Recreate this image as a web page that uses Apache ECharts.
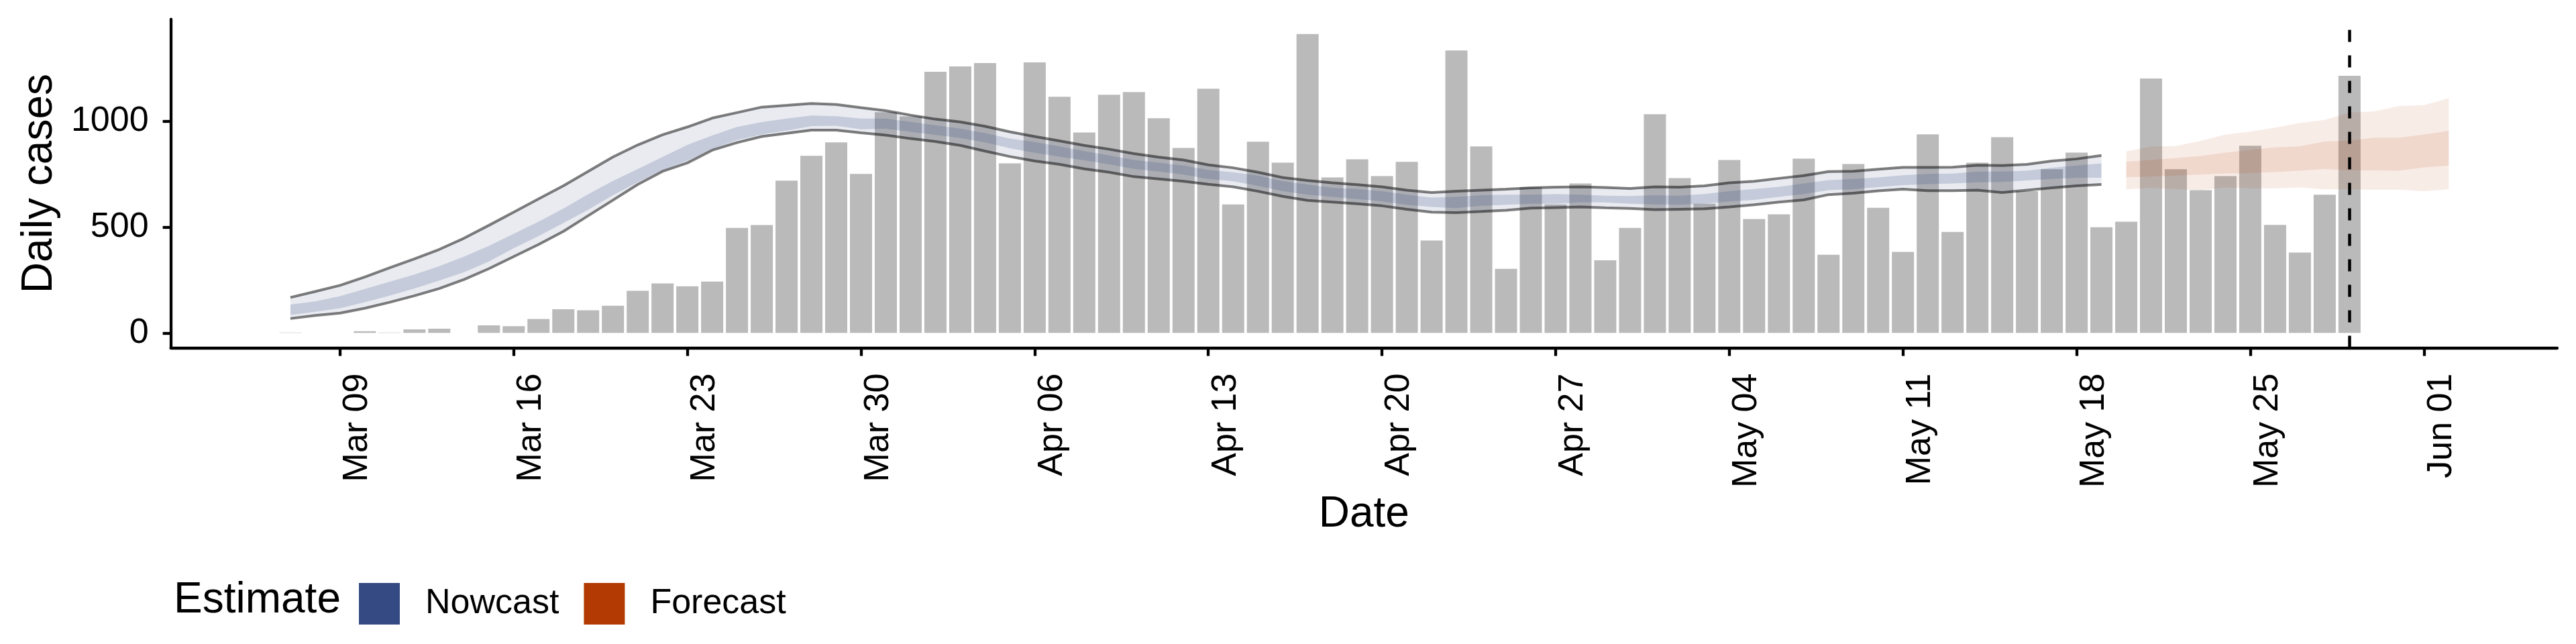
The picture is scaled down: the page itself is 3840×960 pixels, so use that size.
<!DOCTYPE html>
<html>
<head>
<meta charset="utf-8">
<script src="https://cdn.jsdelivr.net/npm/echarts@6/dist/echarts.min.js"></script>
<style>
  html, body { margin: 0; padding: 0; background: #fff; }
  #chart { width: 3840px; height: 960px; }
</style>
</head>
<body>
<div id="chart"></div>
<script>
const FONT = 'Liberation Sans';

// reported daily cases, one per day from caseStart
const caseStart = '2020-03-07';
const cases = [
  2, 0, 0, 8, 2, 17, 20, 0, 36, 32, 66, 112, 107, 129, 199, 234, 221, 243, 497, 510, 720, 838, 901, 752,
  1044, 1024, 1235, 1260, 1276, 802, 1279, 1117, 948, 1126, 1139, 1015, 875, 1155,
  608, 904, 805, 1413, 735, 821, 742, 809, 437, 1336, 882, 303, 689,
  608, 707, 344, 497, 1034, 732, 611, 818, 539, 561, 824, 370, 799, 592,
  383, 939, 478, 805, 926, 670, 774, 853, 500, 526, 1203, 774, 675, 742, 885, 511, 380, 654, 1216
];

// nowcast credible intervals, one per day from nowcastStart
const nowcastStart = '2020-03-07';
const nowUpper90 = [
  168, 196, 225, 265, 308, 350, 395, 448, 509, 571, 634, 696, 764, 832, 889, 937, 974, 1016, 1042, 1068, 1076, 1085, 1080, 1065,
  1051, 1030, 1011, 998, 977, 951, 929, 908, 887, 869, 848, 831, 818, 795,
  781, 760, 735, 721, 710, 701, 691, 675, 664, 670, 675, 680, 686,
  689, 691, 688, 683, 691, 689, 696, 710, 717, 731, 744, 763, 765, 774,
  783, 783, 784, 793, 792, 797, 813, 823, 839
];
const nowLower90 = [
  68, 83, 94, 117, 145, 176, 210, 253, 304, 361, 418, 480, 554, 628, 702, 764, 804, 864, 900, 929, 944, 959, 959, 946,
  935, 919, 905, 887, 860, 834, 813, 797, 776, 760, 739, 728, 717, 703,
  691, 670, 646, 627, 619, 611, 601, 585, 571, 569, 574, 580, 590,
  593, 596, 592, 589, 583, 585, 587, 596, 606, 619, 629, 654, 661, 672,
  680, 673, 673, 675, 664, 675, 686, 696, 702
];
const nowUpper50 = [
  134, 149, 174, 208, 242, 276, 316, 361, 412, 469, 526, 588, 656, 719, 775, 832, 889, 934, 974, 997, 1014, 1028, 1025, 1014,
  1014, 998, 982, 966, 945, 919, 903, 882, 860, 839, 818, 805, 792, 770,
  760, 744, 717, 702, 686, 681, 670, 654, 640, 643, 651, 654, 654,
  657, 654, 649, 647, 651, 649, 657, 670, 681, 691, 707, 723, 728, 735,
  746, 752, 754, 763, 763, 767, 781, 792, 802
];
const nowLower50 = [
  85, 100, 117, 145, 176, 210, 248, 287, 338, 401, 458, 520, 582, 651, 713, 770, 815, 869, 912, 938, 957, 978, 980, 963,
  966, 951, 937, 922, 901, 873, 852, 834, 816, 797, 776, 763, 749, 728,
  717, 696, 670, 654, 643, 633, 622, 606, 596, 590, 601, 606, 611,
  611, 618, 617, 611, 608, 606, 611, 622, 629, 643, 657, 675, 680, 689,
  699, 704, 707, 712, 714, 721, 728, 734, 734
];

// forecast credible intervals, one per day from forecastStart
const forecastStart = '2020-05-20';
const fcUpper90 = [858, 882, 884, 908, 938, 952, 971, 993, 1007, 1042, 1048, 1073, 1077, 1110];
const fcLower90 = [678, 686, 680, 675, 688, 684, 684, 688, 679, 679, 677, 677, 670, 679];
const fcUpper50 = [810, 818, 827, 837, 853, 866, 877, 883, 905, 910, 923, 923, 938, 956];
const fcLower50 = [736, 739, 744, 749, 754, 756, 761, 767, 775, 769, 769, 767, 783, 791];

const tickDates = [
  '2020-03-09', '2020-03-16', '2020-03-23', '2020-03-30', '2020-04-06', '2020-04-13', '2020-04-20',
  '2020-04-27', '2020-05-04', '2020-05-11', '2020-05-18', '2020-05-25', '2020-06-01'
];
const yTicks = [0, 500, 1000];
const estimateDate = '2020-05-29';
const monthNames = ['Jan', 'Feb', 'Mar', 'Apr', 'May', 'Jun', 'Jul', 'Aug', 'Sep', 'Oct', 'Nov', 'Dec'];

const DAY = 86400000;
const ORIGIN = Date.UTC(2020, 2, 7);
function dayOf(s) {
  const p = s.split('-').map(Number);
  return (Date.UTC(p[0], p[1] - 1, p[2]) - ORIGIN) / DAY;
}
function labelOf(s) {
  const p = s.split('-');
  return monthNames[+p[1] - 1] + ' ' + p[2];
}

const tickDays = tickDates.map(dayOf);
const tickLabel = {};
tickDates.forEach(s => { tickLabel[dayOf(s)] = labelOf(s); });

const caseX0 = dayOf(caseStart);
const nowX0 = dayOf(nowcastStart);
const fcX0 = dayOf(forecastStart);

// ggplot-like 5% expansion of the data range
const xLo = caseX0 - 0.45;
const xHi = fcX0 + fcUpper90.length - 1;
const xPad = (xHi - xLo) * 0.05;
const yMaxData = Math.max(...cases, ...fcUpper90, ...nowUpper90);
const yPad = yMaxData * 0.05;

function band(name, x0, lo, hi, fill, z) {
  return {
    name: name,
    type: 'custom',
    z: z,
    silent: true,
    clip: true,
    data: lo.map((v, i) => [x0 + i, v, hi[i]]),
    encode: { x: 0, y: [1, 2] },
    renderItem: function (params, api) {
      if (params.dataIndex !== 0) return null;
      const pts = [];
      for (let i = 0; i < hi.length; i++) pts.push(api.coord([x0 + i, hi[i]]));
      for (let i = lo.length - 1; i >= 0; i--) pts.push(api.coord([x0 + i, lo[i]]));
      return { type: 'polygon', shape: { points: pts }, style: { fill: fill, stroke: null } };
    }
  };
}

function bound(vals) {
  return {
    name: 'bound',
    type: 'line',
    z: 4,
    silent: true,
    symbol: 'none',
    data: vals.map((v, i) => [nowX0 + i, v]),
    lineStyle: { color: 'rgba(0,0,0,0.5)', width: 4 }
  };
}

const chart = echarts.init(document.getElementById('chart'), null, { renderer: 'canvas' });

const option = {
  animation: false,
  backgroundColor: '#fff',
  textStyle: { fontFamily: FONT },
  grid: { left: 254.6, right: 28, top: 28.6, bottom: 441.4, containLabel: false, outerBoundsMode: 'none' },
  xAxis: {
    type: 'value',
    min: xLo - xPad,
    max: xHi + xPad,
    name: 'Date',
    nameLocation: 'middle',
    nameGap: 207,
    nameTextStyle: { fontFamily: FONT, fontSize: 64, color: '#000' },
    axisLine: { show: true, onZero: false, lineStyle: { color: '#000', width: 4.3 } },
    axisTick: { show: true, length: 12, customValues: tickDays, lineStyle: { color: '#000', width: 4.3 } },
    axisLabel: {
      customValues: tickDays,
      rotate: 90,
      margin: 38,
      verticalAlign: 'top',
      fontFamily: FONT,
      fontSize: 52,
      color: '#000',
      formatter: v => tickLabel[v] || ''
    },
    splitLine: { show: false }
  },
  yAxis: {
    type: 'value',
    min: -yPad,
    max: yMaxData + yPad,
    name: 'Daily cases',
    nameLocation: 'middle',
    nameGap: 163,
    nameTextStyle: { fontFamily: FONT, fontSize: 64, color: '#000' },
    axisLine: { show: true, onZero: false, lineStyle: { color: '#000', width: 4.3 } },
    axisTick: { show: true, length: 12, customValues: yTicks, lineStyle: { color: '#000', width: 4.3 } },
    axisLabel: {
      customValues: yTicks,
      margin: 33,
      fontFamily: FONT,
      fontSize: 52,
      color: '#000',
      formatter: v => String(v)
    },
    splitLine: { show: false }
  },
  legend: {
    left: 530,
    top: 864,
    itemWidth: 61,
    itemHeight: 62,
    itemGap: 37,
    selectedMode: false,
    textStyle: { fontFamily: FONT, fontSize: 52, color: '#000', padding: [0, 0, 0, 33] },
    data: [
      { name: 'Nowcast', icon: 'rect', itemStyle: { color: '#354a82', opacity: 1 } },
      { name: 'Forecast', icon: 'rect', itemStyle: { color: '#b33a03', opacity: 1 } }
    ]
  },
  graphic: [{
    type: 'text',
    x: 259,
    y: 895,
    style: { text: 'Estimate', fontFamily: FONT, fontSize: 64, fill: '#000', align: 'left', verticalAlign: 'middle' }
  }],
  series: [
    {
      name: 'Cases',
      type: 'bar',
      z: 1,
      silent: true,
      barWidth: 33,
      data: cases.map((v, i) => [caseX0 + i, v]),
      itemStyle: { color: '#bababa' }
    },
    band('Nowcast', nowX0, nowLower90, nowUpper90, 'rgba(54,75,131,0.11)', 2),
    band('Nowcast', nowX0, nowLower50, nowUpper50, 'rgba(54,75,131,0.2)', 3),
    band('Forecast', fcX0, fcLower90, fcUpper90, 'rgba(178,58,3,0.095)', 2),
    band('Forecast', fcX0, fcLower50, fcUpper50, 'rgba(178,58,3,0.11)', 3),
    bound(nowUpper90),
    bound(nowLower90),
    {
      name: 'estimate date',
      type: 'line',
      z: 6,
      data: [],
      markLine: {
        silent: true,
        symbol: ['none', 'none'],
        label: { show: false },
        lineStyle: { color: '#000', type: [18, 20], width: 4.5 },
        data: [{ xAxis: dayOf(estimateDate) }]
      }
    }
  ]
};

chart.setOption(option);
</script>
</body>
</html>
